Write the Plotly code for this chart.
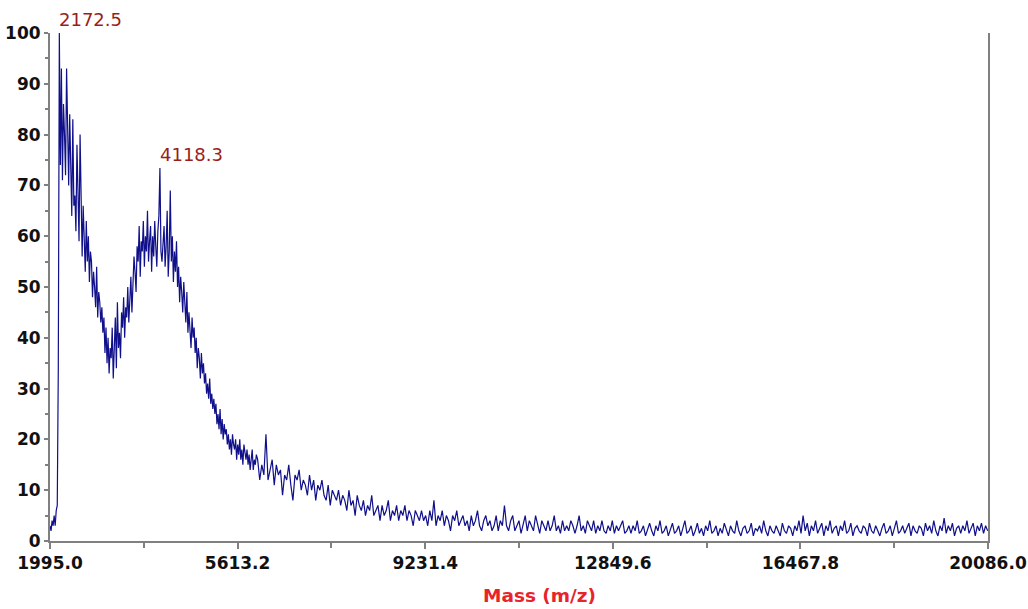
import plotly.graph_objects as go

# ---- data ----
# segment 1: mass 1995 .. 5975, step 20 Da
seg1_start = 1995.0
seg1_step = 20.0
intensity1 = [
    3, 2, 4, 3, 5, 3, 6, 7, 34, 100,
    74, 93, 71, 86, 80, 72, 93, 76, 70, 84,
    72, 64, 83, 66, 68, 61, 78, 65, 59, 80,
    62, 56, 66, 58, 53, 63, 55, 60, 51, 57,
    55, 48, 53, 50, 46, 54, 44, 49, 47, 43,
    46, 41, 44, 37, 42, 35, 40, 33, 38, 36,
    42, 32, 39, 44, 34, 47, 38, 41, 36, 45,
    42, 48, 40, 46, 44, 50, 43, 47, 52, 45,
    50, 56, 53, 49, 58, 55, 62, 52, 59, 57,
    63, 54, 60, 57, 65, 55, 59, 62, 53, 60,
    56, 63, 58, 54, 61, 64, 73.4, 57, 55, 60,
    62, 54, 58, 65, 52, 57, 69, 55, 60, 51,
    57, 53, 59, 50, 54, 47, 52, 49, 45, 51,
    47, 43, 49, 41, 45, 42, 38, 44, 40, 42,
    37, 40, 34, 38, 36, 32, 37, 33, 35, 31,
    33, 29, 31, 28, 32, 27, 29, 26, 28, 25,
    27, 23, 25, 22, 26, 21, 24, 20, 23, 21,
    22, 19, 21, 18, 20, 17, 21, 19, 18, 20,
    16, 19, 17, 20, 16, 18, 15, 19, 17, 16,
    18, 15, 17, 14, 16, 18, 14, 16, 15, 17,
]

# segment 2: mass 6000 .. 20080, step 40 Da
seg2_start = 6000.0
seg2_step = 40.0
intensity2 = [
    16, 12, 15, 13, 21, 12, 14, 16, 11, 15,
    13, 14, 9, 13, 12, 15, 11, 8, 13, 12,
    14, 10, 12, 11, 9, 13, 10, 12, 8, 11,
    10, 12, 9, 8, 11, 7, 10, 9, 8, 10,
    7, 9, 8, 6, 10, 7, 8, 5, 9, 7,
    6, 8, 5, 7, 6, 9, 5, 6, 7, 4,
    7, 5, 6, 8, 4, 6, 5, 7, 4, 6,
    5, 7, 4, 6, 5, 3, 6, 5, 4, 6,
    4, 5, 3, 6, 4, 8, 3, 5, 4, 6,
    3, 5, 4, 2, 5, 4, 6, 3, 4, 5,
    3, 4, 2, 5, 3, 4, 6, 3, 2, 4,
    5, 3, 4, 2, 3, 5, 2, 4, 3, 7,
    3, 2, 4, 5, 2, 3, 4, 1.5, 3, 5,
    2, 4, 3, 2, 5, 3, 1.5, 4, 3, 2,
    4, 2, 3, 5, 2, 3, 1.5, 4, 2, 3,
    2, 4, 3, 1.5, 3, 5, 2, 3, 1.5, 4,
    3, 2, 4, 1.5, 3, 2, 4, 2, 1.5, 3,
    2, 4, 1.5, 3, 2, 3, 4, 1.5, 2, 3,
    1.5, 3, 2, 4, 1.5, 2, 3, 1, 2.5, 3.5,
    2, 1, 3, 2, 4, 1.5, 2, 3, 1, 2.5,
    3.5, 1.5, 2, 3, 1, 2.5, 4, 1.5, 2, 3,
    1, 2, 3.5, 1.5, 2.5, 1, 3, 2, 4, 1.5,
    2, 3, 1, 2.5, 1.5, 3.5, 2, 1, 3, 2,
    1.5, 4, 2, 1, 2.5, 3, 1.5, 2, 3.5, 1,
    2.5, 2, 3, 1.5, 4, 2, 1, 3, 2, 1.5,
    3, 2, 1, 3.5, 2, 1.5, 3, 2.5, 1, 3,
    2, 4, 1.5, 5, 2, 3.5, 1, 3, 2, 4,
    1.5, 2.5, 3.5, 1, 3, 2, 4, 1.5, 2.5, 3,
    1, 3, 2, 4, 1.5, 2, 3.5, 1, 2.5, 3,
    2, 1.5, 3, 2.5, 1, 3.5, 2, 1.5, 3, 2,
    1, 2.5, 3.5, 1.5, 2, 3, 1, 2.5, 4, 1.5,
    2, 3, 1.5, 2.5, 3.5, 1, 3, 2, 1.5, 3,
    2.5, 1, 3.5, 2, 3, 1.5, 4, 2, 1, 3,
    2, 4.5, 1.5, 3, 2, 3.5, 1, 2.5, 3, 1.5,
    3, 2, 4, 1.5, 2.5, 3.5, 1, 3, 2, 3.5,
    1.5, 3, 2,
]

x_tick_vals = [1995.0, 5613.2, 9231.4, 12849.6, 16467.8, 20086.0]
x_tick_text = ["1995.0", "5613.2", "9231.4", "12849.6", "16467.8", "20086.0"]
y_tick_vals = [0, 10, 20, 30, 40, 50, 60, 70, 80, 90, 100]
peak_labels = ["2172.5", "4118.3"]
peak_mass = [2172.5, 4118.3]
peak_int = [100.0, 73.4]

mass1 = [seg1_start + seg1_step * i for i in range(len(intensity1))]
mass2 = [seg2_start + seg2_step * j for j in range(len(intensity2))]
mass = mass1 + mass2
intensity = intensity1 + intensity2

fig = go.Figure()
fig.add_trace(go.Scatter(
    x=mass, y=intensity, mode="lines",
    line=dict(color="#10108a", width=1.2),
    hoverinfo="skip", showlegend=False,
))

for lbl, mx, my in zip(peak_labels, peak_mass, peak_int):
    fig.add_annotation(
        x=mx, y=my, text=lbl, showarrow=False,
        xanchor="left", yanchor="bottom", xshift=-2, yshift=1,
        font=dict(family="DejaVu Sans", size=18, color="#9a1d1d"),
    )

fig.add_annotation(
    x=0.522, y=-0.108, xref="paper", yref="paper",
    text="<b>Mass (m/z)</b>", showarrow=False,
    xanchor="center", yanchor="middle",
    font=dict(family="DejaVu Sans", size=18.5, color="#e8232a"),
)

tick_font = dict(family="DejaVu Sans", size=17, color="#111111")

fig.update_layout(
    width=1028, height=609,
    margin=dict(l=50, r=40, t=33, b=68),
    paper_bgcolor="white", plot_bgcolor="white",
    xaxis=dict(
        range=[1995.0, 20086.0], automargin=False,
        tickmode="array", tickvals=x_tick_vals,
        ticktext=[f"<b>{t}</b>" for t in x_tick_text],
        ticks="outside", ticklen=6, tickwidth=1.5, tickcolor="#808080",
        minor=dict(tick0=1995.0, dtick=1809.1, ticks="outside", ticklen=5,
                   tickwidth=1.5, tickcolor="#808080"),
        showline=True, linecolor="#808080", linewidth=2,
        showgrid=False, zeroline=False, tickfont=tick_font,
    ),
    yaxis=dict(
        range=[0, 100], automargin=False, tickmode="array",
        tickvals=y_tick_vals,
        ticktext=[f"<b>{v}</b>" for v in y_tick_vals],
        ticks="outside", ticklen=4, tickwidth=1.5, tickcolor="#808080",
        minor=dict(tick0=0, dtick=5, ticks="outside", ticklen=3,
                   tickwidth=1.5, tickcolor="#808080"),
        showline=True, linecolor="#808080", linewidth=2, mirror=True,
        showgrid=False, zeroline=False, tickfont=tick_font,
    ),
)

fig.write_html(
    "out.html",
    config={"displayModeBar": False},
    post_script="document.body.style.margin='0';document.body.style.overflow='hidden';",
)
